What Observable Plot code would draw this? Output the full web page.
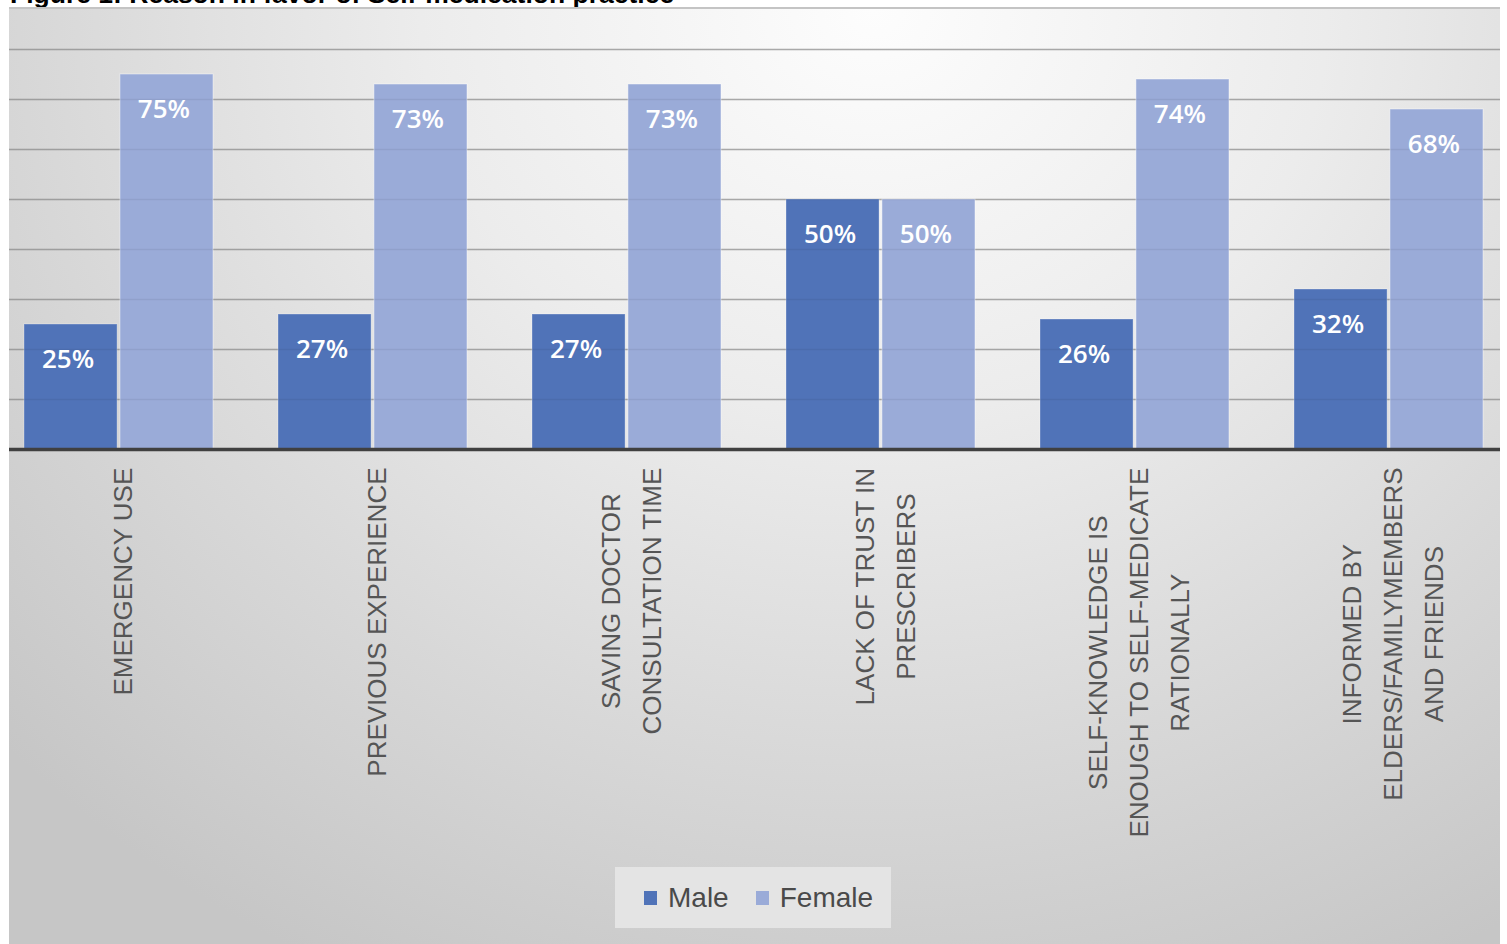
<!DOCTYPE html>
<html>
<head>
<meta charset="utf-8">
<script src="https://cdn.jsdelivr.net/npm/d3@7"></script>
<script src="https://cdn.jsdelivr.net/npm/@observablehq/plot@0.6"></script>
<style>
  html, body { margin: 0; padding: 0; background: #ffffff; }
  body { position: relative; width: 1507px; height: 944px; overflow: hidden; font-family: "Liberation Sans", Arial, sans-serif; }
  #title { position: absolute; left: 10px; top: -19px; font: bold 26.5px/26.5px "Liberation Sans", Arial, sans-serif; color: #000; white-space: nowrap; }
  #frame { position: absolute; left: 9px; top: 7px; width: 1491px; height: 937px; box-sizing: border-box;
           border-top: 2px solid #c4c4c4;
           background: radial-gradient(ellipse 80% 115% at 58% 0%, #fdfdfd 0%, #ececec 38%, #d8d8d8 70%, #c6c6c6 100%); }
  #chart { position: absolute; left: 0; top: 0; }
  #legend { position: absolute; left: 615px; top: 867px; width: 276px; height: 61px; background: #e4e4e4;
            display: flex; align-items: center; padding-left: 29px; box-sizing: border-box;
            font: 28px "Liberation Sans", Arial, sans-serif; color: #4a4a4a; }
  #legend .sw { display: inline-block; width: 13px; height: 14px; margin-right: 11px; }
  #legend .item { display: flex; align-items: center; margin-right: 27px; }
</style>
</head>
<body>
<div id="title">Figure 1: Reason in favor of Self-medication practice</div>
<div id="frame"></div>
<div id="chart"></div>
<div id="legend"></div>
<script>
// ---- data ----
const categories = [
  "EMERGENCY USE",
  "PREVIOUS EXPERIENCE",
  "SAVING DOCTOR\nCONSULTATION TIME",
  "LACK OF TRUST IN\nPRESCRIBERS",
  "SELF-KNOWLEDGE IS\nENOUGH TO SELF-MEDICATE\nRATIONALLY",
  "INFORMED BY\nELDERS/FAMILYMEMBERS\nAND FRIENDS"
];
const male = [25, 27, 27, 50, 26, 32];
const female = [75, 73, 73, 50, 74, 68];
const series = ["Male", "Female"];
const yTicks = [10, 20, 30, 40, 50, 60, 70, 80];

// ---- styling ----
const colors = {Male: "#5073b8", Female: "#9aabd8"};
const W = 1507, H = 944;
const xRange = [-10, 1517];
const padInner = 0.254;
const step = (xRange[1] - xRange[0]) / categories.length;
const bw = step * (1 - padInner);
const half = bw / 2;

const rows = categories.map((c, i) => ({cat: c, male: male[i], female: female[i]}));

// measure label lines to anchor the rotated label blocks at the top
const ctx = document.createElement("canvas").getContext("2d");
ctx.font = "26px 'Liberation Sans'";
const maxLen = c => Math.max(...c.split("\n").map(s => ctx.measureText(s).width));

const labelFontFamily = "Liberation Sans, Arial, sans-serif";
const valueFontFamily = "Open Sans, Liberation Sans, sans-serif";

const chart = Plot.plot({
  width: W,
  height: H,
  marginLeft: 9,
  marginRight: 7,
  marginTop: 49,
  marginBottom: 495,
  style: {background: "transparent", overflow: "visible"},
  x: {domain: categories, range: xRange, paddingInner: padInner, paddingOuter: padInner / 2, axis: null},
  y: {domain: [0, 80], axis: null},
  marks: [
    Plot.ruleY(yTicks, {stroke: "#8f8f8f", strokeOpacity: 0.65, strokeWidth: 1.5}),
    Plot.barY(rows, {x: "cat", y: "male", fill: colors.Male, insetRight: half + 1, stroke: "#ffffff", strokeOpacity: 0.3, strokeWidth: 1}),
    Plot.barY(rows, {x: "cat", y: "female", fill: colors.Female, insetLeft: half + 1, stroke: "#ffffff", strokeOpacity: 0.45, strokeWidth: 1}),
    Plot.ruleY(yTicks, {stroke: "#000000", strokeOpacity: 0.06, strokeWidth: 1.5}),
    Plot.ruleY([0], {stroke: "#404040", strokeWidth: 3.5}),
    Plot.text(rows, {x: "cat", y: "male", text: d => d.male + "%", dx: -(half + 1) / 2 - 3, dy: 35,
      fill: "white", fontSize: 26, fontWeight: 600, fontFamily: valueFontFamily, lineAnchor: "middle"}),
    Plot.text(rows, {x: "cat", y: "female", text: d => d.female + "%", dx: (half + 1) / 2 - 3, dy: 35,
      fill: "white", fontSize: 26, fontWeight: 600, fontFamily: valueFontFamily, lineAnchor: "middle"}),
    ...categories.map(c => Plot.text([c], {
      x: d => d, text: d => d, frameAnchor: "bottom", rotate: -90,
      textAnchor: "middle", lineAnchor: "middle", lineHeight: 1.58,
      dy: 18 + maxLen(c) / 2, fontSize: 26, fill: "#555555", fontFamily: labelFontFamily
    }))
  ]
});
document.getElementById("chart").appendChild(chart);

// legend
const legend = document.getElementById("legend");
series.forEach(s => {
  const item = document.createElement("span");
  item.className = "item";
  const sw = document.createElement("span");
  sw.className = "sw";
  sw.style.background = colors[s];
  item.appendChild(sw);
  item.appendChild(document.createTextNode(s));
  legend.appendChild(item);
});
</script>
</body>
</html>
